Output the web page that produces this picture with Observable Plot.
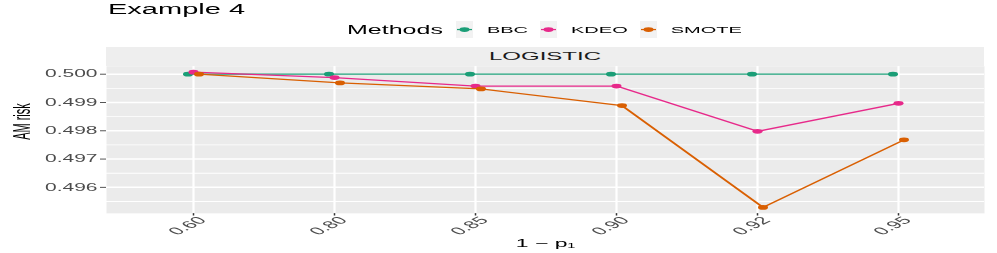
<!DOCTYPE html>
<html>
<head>
<meta charset="utf-8">
<script src="https://cdn.jsdelivr.net/npm/d3@7"></script>
<script src="https://cdn.jsdelivr.net/npm/@observablehq/plot@0.6"></script>
<style>
  html, body { margin: 0; padding: 0; background: #fff; overflow: hidden; }
  body { width: 997px; height: 253px; }
  #wrap { position: relative; width: 997px; height: 531px; transform: scale(1, 0.4765); transform-origin: 0 0;
          font-family: "Liberation Sans", Arial, sans-serif; }
  #title { position: absolute; left: 108px; top: 5px; font-size: 29px; line-height: 1; color: #000; white-space: nowrap; }
  #legend { position: absolute; left: 347px; top: 44px; height: 36px; display: flex; align-items: center; white-space: nowrap; }
  #legend .ttl { font-size: 25px; color: #000; margin-right: 13px; }
  #legend .key { display: block; margin-right: 14px; }
  #legend .lab { font-size: 20px; color: #000; margin-right: 12px; }
  #chart { position: absolute; left: 0; top: 80px; }
</style>
</head>
<body>
<div id="wrap">
  <div id="title"></div>
  <div id="legend"></div>
  <div id="chart"></div>
</div>
<script>
const titleText = "Example 4";
const legendTitle = "Methods";
const facetLabel = "LOGISTIC";
const xTitle = "1 − p₁";
const yTitle = "AM risk";

const xLabels = ["0.60", "0.80", "0.85", "0.90", "0.92", "0.95"];
const methods = ["BBC", "KDEO", "SMOTE"];
const colors = ["#1b9e77", "#e7298a", "#d95f02"];

const bbc   = [0.50000, 0.50000, 0.50000, 0.50000, 0.50000, 0.50000];
const kdeo  = [0.50007, 0.49988, 0.49958, 0.49958, 0.49798, 0.49897];
const smote = [0.50000, 0.49969, 0.49948, 0.49889, 0.49529, 0.49768];

const yTicks = [0.496, 0.497, 0.498, 0.499, 0.500];
const yMinor = [0.4955, 0.4965, 0.4975, 0.4985, 0.4995];
const yDomain = [0.49508, 0.50028];

const series = [bbc, kdeo, smote];
const dodge = [-5.5, 0, 5.5];

const data = methods.map((m, i) => xLabels.map((x, j) => ({x, y: series[i][j], method: m})));

const W = 997, H = 451;
const font = "Liberation Sans, Arial, sans-serif";

const marks = [
  Plot.frame({fill: "#ebebeb"}),
  Plot.gridY(yMinor, {stroke: "#fff", strokeOpacity: 1, strokeWidth: 1.8}),
  Plot.gridY(yTicks, {stroke: "#fff", strokeOpacity: 1, strokeWidth: 3.2}),
  Plot.gridX(xLabels, {stroke: "#fff", strokeOpacity: 1, strokeWidth: 2.2}),
];
methods.forEach((m, i) => {
  marks.push(Plot.line(data[i], {x: "x", y: "y", stroke: colors[i], strokeWidth: 2.6, dx: dodge[i]}));
  marks.push(Plot.dot(data[i], {x: "x", y: "y", fill: colors[i], r: 5, dx: dodge[i]}));
});
marks.push(
  Plot.axisY(yTicks, {tickFormat: d3.format(".3f"), tickSize: 6, tickPadding: 3, fontSize: 21, color: "#4d4d4d", strokeWidth: 2, label: null}),
  Plot.axisX({tickSize: 5, tickFormat: () => "", color: "#333", strokeWidth: 1.5, label: null}),
  Plot.axisX({tickSize: 0, tickRotate: -45, tickPadding: 4, dx: 9, dy: 7, fontSize: 22, color: "#4d4d4d", label: null}),
  Plot.text([yTitle], {frameAnchor: "left", text: d => d, rotate: -90, dx: -84, fontSize: 23, fill: "#000"}),
  Plot.text([xTitle], {frameAnchor: "bottom", text: d => d, lineAnchor: "bottom", dy: 70, fontSize: 23, fill: "#000"})
);

const plot = Plot.plot({
  width: W, height: H,
  marginLeft: 106, marginRight: 13, marginTop: 58.6, marginBottom: 83.7,
  style: {fontFamily: font, background: "transparent", overflow: "visible"},
  x: {type: "point", domain: xLabels, padding: 0.6},
  y: {domain: yDomain},
  marks
});

// facet strip above the panel, placed from the scales' ranges
const xr = plot.scale("x").range, yr = plot.scale("y").range;
const panelTop = Math.min(...yr);
const svgSel = d3.select(plot);
const strip = svgSel.insert("g", ":first-child");
strip.append("rect").attr("x", xr[0]).attr("width", xr[1] - xr[0])
  .attr("y", panelTop - 40).attr("height", 40).attr("fill", "#eeeeee");
strip.append("text").attr("x", (xr[0] + xr[1]) / 2).attr("y", panelTop - 20)
  .attr("text-anchor", "middle").attr("dominant-baseline", "central")
  .attr("font-size", 24).attr("fill", "#1a1a1a").attr("font-family", font).text(facetLabel);

document.getElementById("chart").append(plot);
document.getElementById("title").textContent = titleText;

// legend
const lg = document.getElementById("legend");
const lt = document.createElement("span"); lt.className = "ttl"; lt.textContent = legendTitle; lg.append(lt);
methods.forEach((m, i) => {
  const k = d3.create("svg").attr("class", "key").attr("width", 17).attr("height", 36);
  k.append("rect").attr("width", 17).attr("height", 36).attr("fill", "#f2f2f2");
  k.append("line").attr("x1", 1).attr("x2", 16).attr("y1", 18).attr("y2", 18).attr("stroke", colors[i]).attr("stroke-width", 2.6);
  k.append("circle").attr("cx", 8.5).attr("cy", 18).attr("r", 5).attr("fill", colors[i]);
  lg.append(k.node());
  const l = document.createElement("span"); l.className = "lab"; l.textContent = m; lg.append(l);
});
</script>
</body>
</html>
